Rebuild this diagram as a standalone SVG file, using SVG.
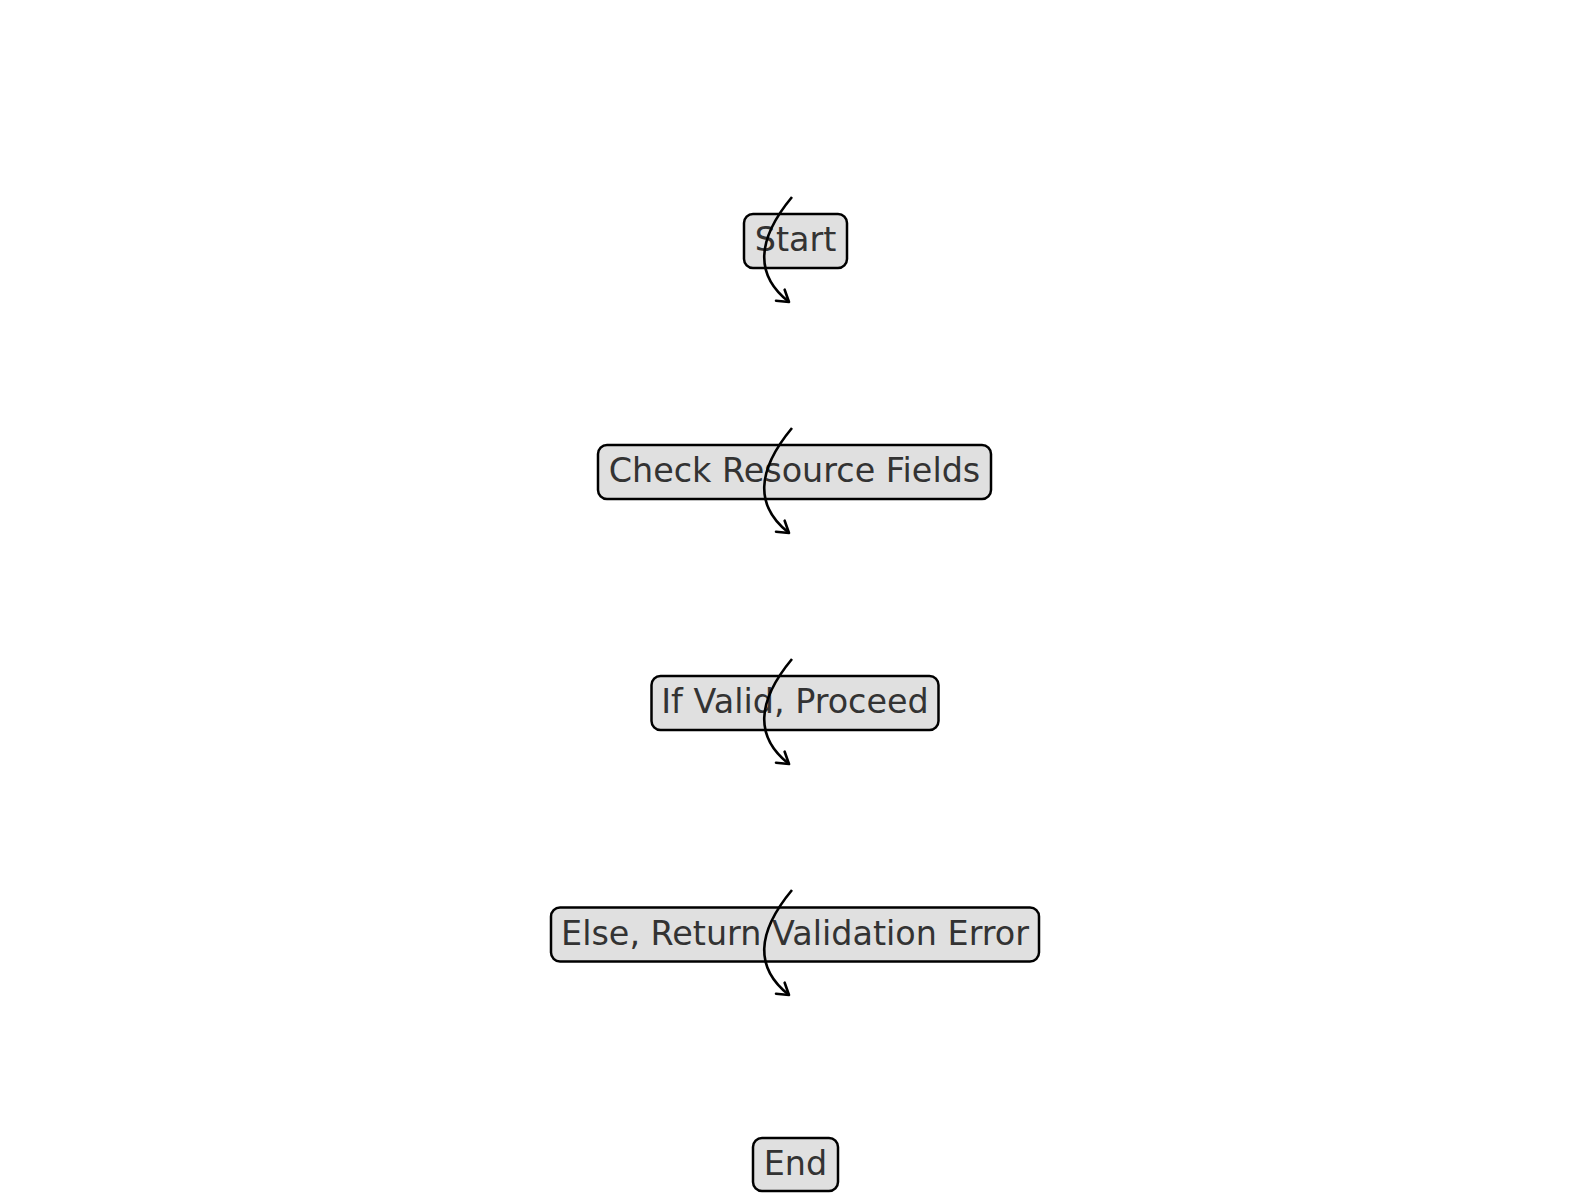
<svg xmlns="http://www.w3.org/2000/svg" width="1589" height="1202" viewBox="0 0 1589 1202">
  <style>
    .box { fill: #e0e0e0; stroke: #000; stroke-width: 2.5; }
    .label { font-family: "DejaVu Sans", "Liberation Sans", sans-serif; font-size: 33.4px; fill: #333; text-anchor: middle; }
    .edge { fill: none; stroke: #000; stroke-width: 2.6; }
  </style>
  <defs>
    <marker id="head" markerUnits="userSpaceOnUse" markerWidth="30" markerHeight="30" viewBox="-15 -15 30 30" refX="0" refY="0" orient="auto">
      <path d="M-11,-7 L0,0 L-11,7" fill="none" stroke="#000" stroke-width="2.6" stroke-linecap="round" stroke-linejoin="round"/>
    </marker>
  </defs>
  <rect width="1589" height="1202" fill="#fff"/>

  <g id="node-start">
    <rect class="box" x="744" y="214" width="103" height="54" rx="9"/>
    <text class="label" x="795.5" y="251">Start</text>
  </g>
  <g id="node-check">
    <rect class="box" x="598" y="445" width="393" height="54" rx="9"/>
    <text class="label" x="794.5" y="482">Check Resource Fields</text>
  </g>
  <g id="node-valid">
    <rect class="box" x="651.5" y="676" width="287" height="54" rx="9"/>
    <text class="label" x="795" y="713">If Valid, Proceed</text>
  </g>
  <g id="node-error">
    <rect class="box" x="551" y="907.5" width="488" height="54" rx="9"/>
    <text class="label" x="795" y="944.5">Else, Return Validation Error</text>
  </g>
  <g id="node-end">
    <rect class="box" x="753" y="1138" width="85" height="53" rx="9"/>
    <text class="label" x="795.5" y="1175">End</text>
  </g>

  <g id="connectors">
    <path class="edge" marker-end="url(#head)" d="M792,197 Q738,262 789,302"/>
    <path class="edge" marker-end="url(#head)" d="M792,428 Q738,493 789,533"/>
    <path class="edge" marker-end="url(#head)" d="M792,659 Q738,724 789,764"/>
    <path class="edge" marker-end="url(#head)" d="M792,890 Q738,955 789,995"/>
  </g>
</svg>
